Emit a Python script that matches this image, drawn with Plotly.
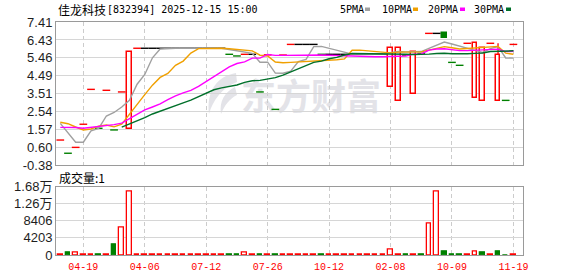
import base64
import plotly.graph_objects as go

# ---------------- data ----------------
idx = list(range(60))
x_tick_pos = [3, 11, 19, 27, 35, 43, 51, 59]
x_tick_text = ["04-19", "04-06", "07-12", "07-26", "10-12", "02-08", "10-09", "11-19"]

y_tick_vals = [7.41, 6.43, 5.46, 4.49, 3.51, 2.54, 1.57, 0.60, -0.38]
y_tick_text = ["7.41", "6.43", "5.46", "4.49", "3.51", "2.54", "1.57", "0.60", "-0.38"]
vol_tick_vals = [0, 4203, 8406, 12609, 16812]
vol_tick_text = ["0", "4203", "8406", "1.26万", "1.68万"]

closes = [0.98, 0.26, 0.58, 1.84, 3.74, 1.62, 3.69, 1.53, 3.60, 5.76,
          5.98, 5.98, 5.98, 5.98, 5.98, 5.98, 5.98, 5.98, 5.98, 5.98,
          5.98, 5.98, 5.65, 5.56, 5.65, 5.65, 3.60, 5.62, 2.65, 5.61,
          6.19, 6.19, 6.19, 6.19, 5.65, 5.65, 5.65, 5.65, 5.68, 5.68,
          5.68, 5.68, 5.68, 5.98, 5.98, 5.60, 5.76, 5.70, 6.79, 6.79,
          6.55, 5.21, 5.05, 6.25, 6.25, 6.00, 6.25, 5.61, 3.14, 6.19]
opens = [0.98, 0.26, 0.58, 1.84, 3.74, 1.62, 3.69, 1.53, 3.60, 1.57,
         5.98, 5.98, 5.98, 5.98, 5.98, 5.98, 5.98, 5.98, 5.98, 5.98,
         5.98, 5.98, 5.65, 5.56, 5.65, 5.65, 3.60, 5.62, 2.65, 5.61,
         6.19, 6.19, 6.19, 6.19, 5.65, 5.65, 5.65, 5.65, 5.68, 5.68,
         5.68, 5.68, 5.68, 3.85, 3.12, 5.60, 3.47, 5.70, 6.79, 6.79,
         6.79, 5.21, 5.05, 6.25, 3.25, 3.12, 6.25, 3.12, 3.14, 6.19]
highs = [0.98, 0.26, 0.58, 1.84, 3.74, 1.62, 3.69, 1.53, 3.60, 5.76,
         5.98, 5.98, 5.98, 5.98, 5.98, 5.98, 5.98, 5.98, 5.98, 5.98,
         5.98, 5.98, 5.65, 5.56, 5.65, 5.65, 3.60, 5.62, 2.65, 5.61,
         6.19, 6.19, 6.19, 6.19, 5.65, 5.65, 5.65, 5.65, 5.68, 5.68,
         5.68, 5.68, 5.68, 5.98, 5.98, 5.60, 5.76, 5.70, 6.79, 6.79,
         6.79, 5.21, 5.05, 6.25, 6.25, 6.00, 6.25, 6.25, 3.14, 6.19]
lows = [0.98, 0.26, 0.58, 1.84, 3.74, 1.62, 3.69, 1.53, 3.60, 1.57,
        5.98, 5.98, 5.98, 5.98, 5.98, 5.98, 5.98, 5.98, 5.98, 5.98,
        5.98, 5.98, 5.65, 5.56, 5.65, 5.65, 3.60, 5.62, 2.65, 5.61,
        6.19, 6.19, 6.19, 6.19, 5.65, 5.65, 5.65, 5.65, 5.68, 5.68,
        5.68, 5.68, 5.68, 3.85, 3.12, 5.60, 3.47, 5.70, 6.79, 6.79,
        6.55, 5.21, 5.05, 6.25, 3.25, 3.12, 6.25, 3.12, 3.14, 6.19]
volumes = [80, 550, 500, 80, 80, 80, 80, 2700, 6800, 15600,
           80, 80, 80, 80, 80, 80, 80, 80, 80, 80,
           80, 80, 80, 80, 500, 80, 80, 80, 80, 80,
           80, 80, 80, 80, 80, 80, 80, 80, 80, 80,
           80, 80, 80, 1400, 80, 150, 80, 80, 7750, 15600,
           750, 150, 150, 80, 950, 500, 80, 750, 0, 80]

ma5 = [1.89, 1.36, 0.86, 0.86, 1.48, 1.61, 2.29, 2.48, 2.78, 3.15,
       4.02, 4.55, 5.46, 5.94, 5.98, 5.98, 5.98, 5.98, 5.98, 5.98,
       5.98, 5.98, 5.91, 5.83, 5.77, 5.70, 5.22, 5.22, 4.63, 4.62,
       4.73, 5.25, 5.37, 6.07, 6.08, 5.97, 5.87, 5.76, 5.66, 5.66,
       5.67, 5.67, 5.68, 5.74, 5.80, 5.78, 5.80, 5.80, 5.97, 6.13,
       6.32, 6.21, 6.08, 5.97, 5.86, 5.75, 5.96, 6.07, 5.45, 5.44]
ma10 = [1.95, 1.87, 1.69, 1.53, 1.58, 1.74, 1.80, 1.70, 1.85, 2.40,
        2.90, 3.45, 3.97, 4.39, 4.61, 5.05, 5.28, 5.72, 5.96, 5.98,
        5.98, 5.98, 5.95, 5.90, 5.87, 5.84, 5.60, 5.56, 5.23, 5.19,
        5.21, 5.23, 5.27, 5.30, 5.30, 5.32, 5.35, 5.40, 5.87, 5.88,
        5.84, 5.80, 5.75, 5.73, 5.77, 5.76, 5.77, 5.78, 5.88, 5.99,
        6.07, 6.01, 5.94, 5.97, 6.00, 6.04, 6.08, 6.08, 5.71, 5.65]
ma20 = [1.67, 1.67, 1.66, 1.62, 1.66, 1.72, 1.78, 1.82, 1.90, 2.15,
        2.40, 2.62, 2.78, 2.95, 3.18, 3.39, 3.55, 3.69, 3.90, 4.17,
        4.42, 4.71, 4.96, 5.15, 5.24, 5.44, 5.44, 5.64, 5.59, 5.59,
        5.60, 5.61, 5.62, 5.63, 5.61, 5.60, 5.58, 5.56, 5.55, 5.54,
        5.53, 5.52, 5.52, 5.54, 5.56, 5.56, 5.66, 5.67, 5.88, 5.94,
        5.95, 5.90, 5.85, 5.85, 5.88, 5.90, 5.93, 5.93, 5.80, 5.82]
ma30 = [None, None, None, None, None, None, None, None, 1.68, 1.85,
        2.00, 2.20, 2.40, 2.56, 2.72, 2.86, 3.00, 3.15, 3.35, 3.55,
        3.72, 3.82, 3.90, 3.98, 4.12, 4.21, 4.23, 4.32, 4.38, 4.52,
        4.70, 4.88, 5.07, 5.21, 5.28, 5.41, 5.48, 5.61, 5.69, 5.69,
        5.68, 5.67, 5.66, 5.66, 5.66, 5.65, 5.64, 5.63, 5.66, 5.69,
        5.71, 5.68, 5.66, 5.68, 5.70, 5.72, 5.80, 5.80, 5.82, 5.84]

ma_names = ["5PMA", "10PMA", "20PMA", "30PMA"]
ma_colors = ["#a0a0a0", "#f0a000", "#ff00ff", "#00702a"]

RED = "#ff0000"
GREEN = "#008000"

# ---------------- pixel helpers (layout only) ----------------
PL, PR, PT, PB = 56, 523, 22, 255
W, H = 578, 276


def xp(px):
    return (px - PL) / (PR - PL)


def yp(py):
    return (PB - py) / (PB - PT)


fig = go.Figure()

body_x, body_base, body_h, body_fill, body_line = [], [], [], [], []
dash_x, dash_y, dash_col = [], [], []
wick_x, wick_y = [], []
for i in idx:
    o, c, h, l = opens[i], closes[i], highs[i], lows[i]
    prev = closes[i - 1] if i > 0 else c - 1
    if o != c:
        body_x.append(i)
        body_base.append(min(o, c))
        body_h.append(abs(c - o))
        up = c > o
        body_fill.append("#ffffff" if up else GREEN)
        body_line.append(RED if up else GREEN)
        if h > max(o, c):
            wick_x += [i, i, None]
            wick_y += [max(o, c), h, None]
        if l < min(o, c):
            wick_x += [i, i, None]
            wick_y += [l, min(o, c), None]
    else:
        dash_x.append(i)
        dash_y.append(c)
        dash_col.append(RED if c > prev else (GREEN if c < prev else "#000000"))

fig.add_trace(go.Bar(x=body_x, y=body_h, base=body_base, width=0.6,
                     marker=dict(color=body_fill, line=dict(color=body_line, width=1.5)),
                     xaxis="x", yaxis="y", showlegend=False, hoverinfo="skip"))
fig.add_trace(go.Scatter(x=wick_x, y=wick_y, mode="lines",
                         line=dict(color=RED, width=1.3),
                         xaxis="x", yaxis="y", showlegend=False, hoverinfo="skip"))
fig.add_trace(go.Scatter(x=dash_x, y=dash_y, mode="markers",
                         marker=dict(symbol="line-ew", size=5.5,
                                     line=dict(color=dash_col, width=1.4)),
                         xaxis="x", yaxis="y", showlegend=False, hoverinfo="skip"))

for name, vals, col in zip(ma_names, [ma5, ma10, ma20, ma30], ma_colors):
    fig.add_trace(go.Scatter(x=idx, y=vals, mode="lines", name=name,
                             line=dict(color=col, width=1.4),
                             xaxis="x", yaxis="y", showlegend=False, hoverinfo="skip"))

# volume
vfill, vline = [], []
for i in idx:
    prev = closes[i - 1] if i > 0 else closes[i]
    if closes[i] >= prev:
        vfill.append("#ffffff")
        vline.append(RED)
    else:
        vfill.append(GREEN)
        vline.append(GREEN)
fig.add_trace(go.Bar(x=idx, y=volumes, width=0.6,
                     marker=dict(color=vfill, line=dict(color=vline, width=1.3)),
                     xaxis="x2", yaxis="y2", showlegend=False, hoverinfo="skip"))

GRID = "#d6d6d6"
FRAME = "#9a9a9a"
TICKFONT = dict(family="Liberation Sans, Arial, Noto Sans CJK SC", size=13, color="#1e1e1e")

common_x = dict(range=[-0.56, 60.25], tickmode="array", tickvals=x_tick_pos,
                showgrid=True, gridcolor="#cccccc", griddash="4px,3px", gridwidth=1,
                zeroline=False, showline=True, mirror=True, linecolor=FRAME, linewidth=1,
                fixedrange=True, automargin=False)

fig.update_layout(
    width=W, height=H,
    margin=dict(l=PL, r=W - PR, t=PT, b=H - PB, pad=0, autoexpand=False),
    paper_bgcolor="#ffffff", plot_bgcolor="rgba(0,0,0,0)",
    barmode="overlay", bargap=0,
    xaxis=dict(domain=[0, 1], anchor="y", showticklabels=False, ticks="", **common_x),
    yaxis=dict(domain=[yp(165), 1], range=[-0.38, 7.41], tickmode="array",
               tickvals=y_tick_vals, ticktext=y_tick_text, tickfont=TICKFONT,
               showgrid=True, gridcolor=GRID, gridwidth=1, zeroline=False,
               showline=True, mirror=True, linecolor=FRAME, linewidth=1, ticks="",
               automargin=False),
    xaxis2=dict(domain=[0, 1], anchor="y2", ticktext=x_tick_text, showticklabels=True,
                ticks="outside", ticklen=2, tickcolor="rgba(0,0,0,0)",
                tickfont=dict(family="Liberation Mono, monospace", size=10, color=RED),
                **common_x),
    yaxis2=dict(domain=[0, yp(186.5)], range=[0, 16812], tickmode="array",
                tickvals=vol_tick_vals, ticktext=vol_tick_text, tickfont=TICKFONT,
                showgrid=True, gridcolor=GRID, gridwidth=1, zeroline=False,
                showline=True, mirror=True, linecolor=FRAME, linewidth=1, ticks="",
                automargin=False),
    showlegend=False,
)

ann = []
ann.append(dict(text="佳龙科技", x=xp(56), y=yp(9.5), xref="paper", yref="paper",
                xanchor="left", yanchor="middle", showarrow=False,
                font=dict(family="Noto Sans CJK SC", size=12, color="#000")))
ann.append(dict(text="[832394] 2025-12-15 15:00", x=xp(105), y=yp(9.5), xref="paper", yref="paper",
                xanchor="left", yanchor="middle", showarrow=False,
                font=dict(family="DejaVu Sans Mono, monospace", size=10, color="#000")))
ann.append(dict(text="成交量:1", x=xp(56.5), y=yp(177), xref="paper", yref="paper",
                xanchor="left", yanchor="middle", showarrow=False,
                font=dict(family="Noto Sans CJK SC", size=12, color="#000")))

legend_text_x = [338, 380, 426, 472]
legend_sq_x = [365, 413, 460, 506]
shapes = []
for name, col, tx, sx in zip(ma_names, ma_colors, legend_text_x, legend_sq_x):
    ann.append(dict(text=name, x=xp(tx), y=yp(9.5), xref="paper", yref="paper",
                    xanchor="left", yanchor="middle", showarrow=False,
                    font=dict(family="DejaVu Sans Mono, monospace", size=10, color="#000")))
    shapes.append(dict(type="rect", xref="paper", yref="paper",
                       x0=xp(sx), x1=xp(sx + 5), y0=yp(11), y1=yp(7.5),
                       fillcolor=col, line=dict(width=0)))

# watermark
svg = (
    '<svg xmlns="http://www.w3.org/2000/svg" width="185" height="48" viewBox="0 0 185 48">'
    '<path d="M36,3 C18,6 6,20 9,44 C13,30 22,18 37,12 Z" fill="#e3e3e8"/>'
    '<path d="M35,17 C25,22 19,31 21,44 C25,35 29,29 37,25 Z" fill="#e3e3e8"/>'
    '<text x="41" y="40" font-family="Noto Sans CJK SC" font-weight="700" font-size="36" '
    'fill="#e3e3e8" textLength="140" lengthAdjust="spacingAndGlyphs">东方财富</text>'
    '</svg>'
)
src = "data:image/svg+xml;base64," + base64.b64encode(svg.encode("utf-8")).decode("ascii")
fig.update_layout(
    annotations=ann, shapes=shapes,
    images=[dict(source=src, xref="paper", yref="paper", x=xp(200), y=yp(70),
                 sizex=185 / (PR - PL), sizey=48 / (PB - PT), xanchor="left", yanchor="top",
                 sizing="stretch", layer="below")],
)

fig.write_html("out.html")
